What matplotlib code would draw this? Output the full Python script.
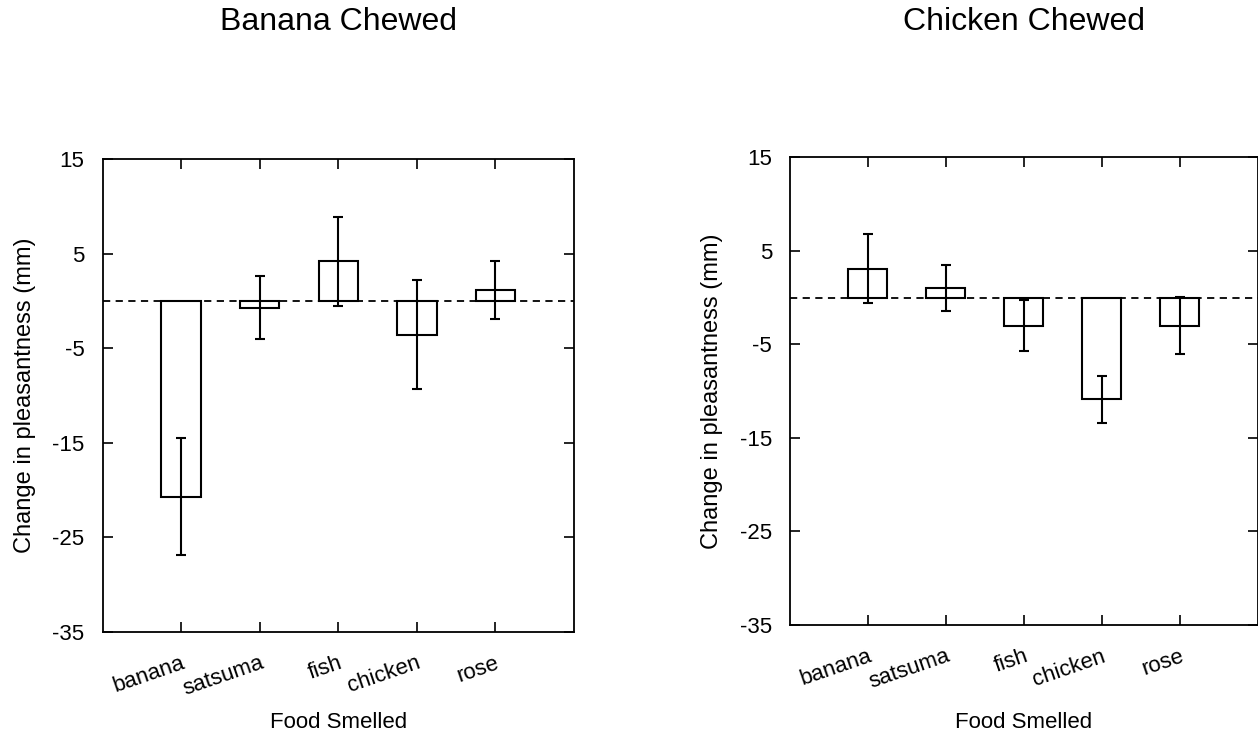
import matplotlib
matplotlib.use("Agg")
import matplotlib.pyplot as plt

plt.rcParams['font.family'] = ['Liberation Sans', 'DejaVu Sans']
plt.rcParams['axes.unicode_minus'] = False

foods = ["banana", "satsuma", "fish", "chicken", "rose"]

# Banana chewed
banana_mean = [-20.7, -0.7, 4.2, -3.55, 1.15]
banana_err = [6.2, 3.3, 4.7, 5.8, 3.05]

# Chicken chewed
chicken_mean = [3.1, 1.05, -3.0, -10.85, -3.0]
chicken_err = [3.7, 2.45, 2.7, 2.5, 3.05]

titles = ["Banana Chewed", "Chicken Chewed"]
yticks = [15, 5, -5, -15, -25, -35]

fig = plt.figure(figsize=(12.58, 7.38), dpi=100)
ax1 = fig.add_axes([0.0815, 0.1440, 0.3748, 0.6401])
ax2 = fig.add_axes([0.628, 0.1531, 0.3718, 0.6337])


def draw_panel(ax, means, errs, title):
    x = list(range(1, len(foods) + 1))
    ax.bar(x, means, width=0.5, color="white", edgecolor="black", linewidth=1.5, zorder=2)
    ax.errorbar(x, means, yerr=errs, fmt="none", ecolor="black", elinewidth=1.5,
                capsize=3.5, capthick=1.5, zorder=3)
    ax.plot([0, 6], [0, 0], color="black", linestyle=(0, (4, 3)), linewidth=1.3, zorder=1)
    ax.set_xlim(0, 6)
    ax.set_ylim(-35, 15)
    ax.set_yticks(yticks)
    ax.set_yticklabels([str(v) for v in yticks])
    ax.set_xticks(x)
    ax.set_xticklabels(foods, rotation=19, ha="right", va="top", rotation_mode="anchor")
    ax.tick_params(direction="in", length=7, width=1.2, top=True, right=True,
                   labelsize=16, color="black")
    ax.tick_params(axis="x", pad=15)
    ax.tick_params(axis="y", pad=13)
    for s in ax.spines.values():
        s.set_linewidth(1.3)
    ax.set_ylabel("Change in pleasantness (mm)", fontsize=17, labelpad=12)
    pos = ax.get_position()
    xc = (pos.x0 + pos.x1) / 2
    fig.text(xc, 1 - 723 / 738, "Food Smelled", fontsize=16, ha="center", va="center")
    fig.text(xc, 1 - 22 / 738, title, fontsize=23, ha="center", va="center")


draw_panel(ax1, banana_mean, banana_err, titles[0])
draw_panel(ax2, chicken_mean, chicken_err, titles[1])

fig.savefig("out.png", dpi=100)
